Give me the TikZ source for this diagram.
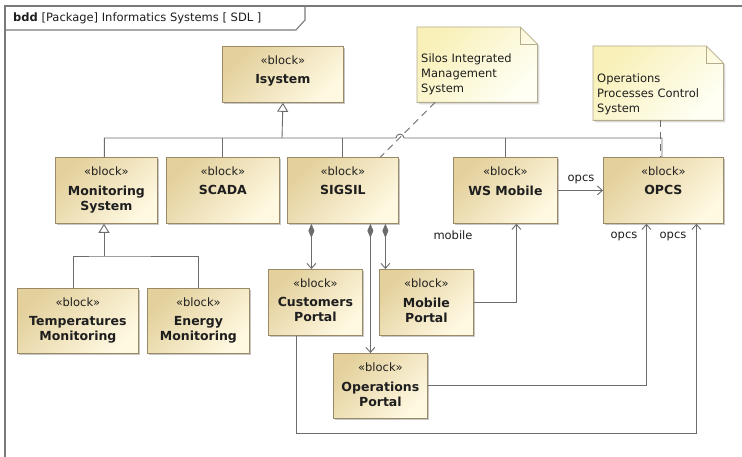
\documentclass[tikz,border=0pt]{standalone}
\usepackage{fontspec}
\setmainfont{DejaVu Sans}
\usetikzlibrary{arrows.meta,shadows,calc}

\definecolor{blockdark}{HTML}{E3D09C}
\definecolor{blocklight}{HTML}{FFF9E2}
\definecolor{blockedge}{HTML}{9A8A66}
\definecolor{notedark}{HTML}{F8F0B8}
\definecolor{notelight}{HTML}{FFFFF4}
\definecolor{noteedge}{HTML}{B4AC8C}
\definecolor{wire}{HTML}{6C6C6C}
\definecolor{framegray}{HTML}{7A7A7A}
\definecolor{ink}{HTML}{1E1E1E}

\tikzset{
  block/.style={draw=blockedge, line width=0.8pt, anchor=north west, inner sep=0pt,
    top color=blockdark, bottom color=blocklight, shading angle=45,
    drop shadow={shadow xshift=2pt, shadow yshift=-2pt, fill=black, opacity=0.22}},
  stereo/.style={anchor=north, inner sep=0pt, text=ink, font=\fontsize{11.5}{14}\selectfont},
  bname/.style={anchor=north, inner sep=0pt, text=ink, align=center,
    font=\fontsize{12.5}{15}\selectfont\bfseries},
  notearea/.style={anchor=north west, inner sep=0pt, draw=none},
  notebody/.style={draw=noteedge, line width=0.8pt, top color=notedark, bottom color=notelight,
    shading angle=45,
    drop shadow={shadow xshift=2pt, shadow yshift=-2pt, fill=black, opacity=0.15}},
  notetext/.style={anchor=north west, inner sep=0pt, text=ink, align=left,
    font=\fontsize{11.5}{15}\selectfont},
  lbl/.style={inner sep=0pt, text=ink, font=\fontsize{11.5}{14}\selectfont},
  wireline/.style={draw=wire, line width=0.9pt},
  gen/.style={wireline, -{Triangle[open, length=9pt, width=11pt, fill=white]}},
  nav/.style={wireline, -{Straight Barb[length=5pt, width=9pt]}},
  comp/.style={wireline, {Diamond[length=14pt, width=6pt, fill=wire]}-{Straight Barb[length=5pt, width=9pt]}},
  anchorline/.style={draw=wire, line width=0.9pt, dash pattern=on 7pt off 5pt},
}

% block with stereotype and name: name, x, y, width, height, title
\newcommand\umlblock[6]{%
  \node[block, minimum width=#4pt, minimum height=#5pt] (#1) at (#2,#3) {};
  \node[stereo] (#1-st) at ([yshift=-9.5pt]#1.north) {«block»};
  \node[bname] (#1-nm) at ([yshift=-28.5pt]#1.north) {#6};
}

% note with a folded corner: name, x, y, width, height
\newcommand\umlnote[5]{%
  \node[notearea, minimum width=#4pt, minimum height=#5pt] (#1) at (#2,#3) {};
  \path[notebody] (#1.north west) -- ([xshift=-17pt]#1.north east)
    -- ([yshift=-17pt]#1.north east) -- (#1.south east) -- (#1.south west) -- cycle;
  \draw[noteedge, line width=0.8pt] ([xshift=-17pt]#1.north east)
    -- ([xshift=-17pt,yshift=-17pt]#1.north east) -- ([yshift=-17pt]#1.north east);
}

\begin{document}
\begin{tikzpicture}[x=1pt, y=-1pt]
\useasboundingbox (0,0) rectangle (742,457);
\clip (0,0) rectangle (742,457);
\fill[white] (0,0) rectangle (742,457);

% diagram frame and its name tab
\draw[framegray, line width=1.4pt] (5,470) -- (5,6) -- (760,6);
\draw[framegray, line width=1.1pt] (5,30) -- (296,30) -- (305,20) -- (305,6);
\node[anchor=west, inner sep=0pt, text=ink, font=\fontsize{11.5}{14}\selectfont] (hdr) at (13,18)
  {\textbf{bdd} [Package] Informatics Systems [ SDL ]};

% blocks
\umlblock{isys}{222}{46}{121}{56}{Isystem}
\umlblock{mon}{55}{157}{102}{66}{Monitoring\\System}
\umlblock{scada}{166}{157}{113}{66}{SCADA}
\umlblock{sigsil}{287}{157}{111}{66}{SIGSIL}
\umlblock{wsm}{453}{157}{104}{66}{WS Mobile}
\umlblock{opcs}{603}{157}{120}{66}{OPCS}
\umlblock{temp}{17}{288}{121}{65}{Temperatures\\Monitoring}
\umlblock{energy}{147}{288}{102}{65}{Energy\\Monitoring}
\umlblock{cust}{268}{269}{94}{66}{Customers\\Portal}
\umlblock{mobp}{379}{269}{94}{66}{Mobile\\Portal}
\umlblock{opsp}{333}{353}{94}{65}{Operations\\Portal}

% notes
\umlnote{n1}{417}{27}{120}{75}
\node[notetext] (n1-t) at (421,54) {Silos Integrated\\Management\\System};
\umlnote{n2}{593}{46}{130}{74}
\node[notetext] (n2-t) at (597,74) {Operations\\Processes Control\\System};

% generalization tree under Isystem
\coordinate (ibus) at (282,138);
\coordinate (hopL) at (396,138);
\coordinate (obus) at (662,138);
\draw[wireline] ([xshift=-2pt]mon.north) |- (hopL)
  arc[start angle=180, end angle=0, radius=4pt] -- (obus) -- (obus |- opcs.north);
\draw[wireline] (scada.north) -- (scada.north |- obus);
\draw[wireline] (sigsil.north) -- (sigsil.north |- obus);
\draw[wireline] (wsm.north) -- (wsm.north |- obus);
\draw[gen] (ibus) -- (isys.south);

% generalization tree under Monitoring System
\coordinate (mjoin) at (104,256);
\draw[wireline] ([xshift=-4.5pt]temp.north) |- (mjoin) -| (energy.north);
\draw[gen] (mjoin) -- (mjoin |- mon.south);

% note anchors
\draw[anchorline] ([xshift=-42pt]n1.south) -- ([xshift=37.5pt]sigsil.north);
\draw[anchorline] ([xshift=2pt]n2.south) -- ([xshift=2pt]n2.south |- opcs.north);

% part compositions of SIGSIL
\draw[comp] ([xshift=-31.5pt]sigsil.south) -- ([xshift=-31.5pt]sigsil.south |- cust.north);
\draw[comp] ([xshift=27.5pt]sigsil.south) -- ([xshift=27.5pt]sigsil.south |- opsp.north);
\draw[comp] ([xshift=42.5pt]sigsil.south) -- ([xshift=42.5pt]sigsil.south |- mobp.north);

% directed associations
\draw[nav] (wsm.east) -- (opcs.west);
\draw[nav] (mobp.east) -| ([xshift=11pt]wsm.south);
\draw[nav] (opsp.east) -| ([xshift=-17pt]opcs.south);
\draw[nav] ([xshift=-19pt]cust.south) -- ++(0,98) -| ([xshift=33pt]opcs.south);

% association end labels
\node[lbl] (l-opcs1) at (581,179) {opcs};
\node[lbl] (l-mobile) at (453,235) {mobile};
\node[lbl] (l-opcs2) at (624,236) {opcs};
\node[lbl] (l-opcs3) at (673,236) {opcs};
\end{tikzpicture}
\end{document}
